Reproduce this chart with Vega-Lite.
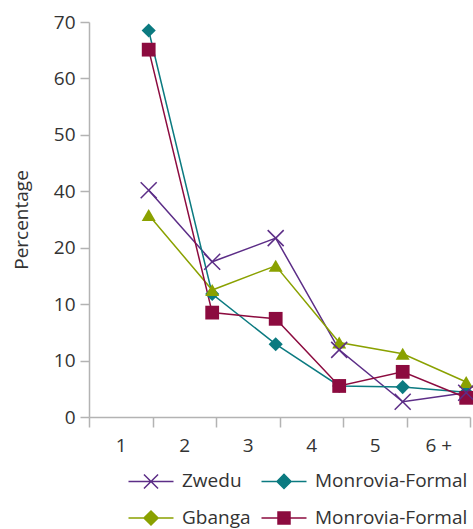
{
  "$schema": "https://vega.github.io/schema/vega-lite/v6.json",
  "autosize": "none",
  "width": 381,
  "height": 395,
  "padding": {"left": 89, "top": 22, "right": 3, "bottom": 112},
  "config": {
    "font": "Open Sans",
    "view": {"stroke": null},
    "axis": {"grid": false, "domainColor": "#b3b3b3", "tickColor": "#b3b3b3", "labelColor": "#333333", "labelFontSize": 19, "titleColor": "#333333", "domainWidth": 1.5, "tickWidth": 1.5}
  },
  "data": {"values": [
    {"series": "Zwedu", "size": "1", "value": 40.2},
    {"series": "Zwedu", "size": "2", "value": 27.5},
    {"series": "Zwedu", "size": "3", "value": 31.7},
    {"series": "Zwedu", "size": "4", "value": 11.9},
    {"series": "Zwedu", "size": "5", "value": 2.7},
    {"series": "Zwedu", "size": "6 +", "value": 4.3},
    {"series": "Monrovia-Formal A", "size": "1", "value": 68.5},
    {"series": "Monrovia-Formal A", "size": "2", "value": 21.8},
    {"series": "Monrovia-Formal A", "size": "3", "value": 12.9},
    {"series": "Monrovia-Formal A", "size": "4", "value": 5.5},
    {"series": "Monrovia-Formal A", "size": "5", "value": 5.3},
    {"series": "Monrovia-Formal A", "size": "6 +", "value": 4.4},
    {"series": "Gbanga", "size": "1", "value": 35.8},
    {"series": "Gbanga", "size": "2", "value": 22.5},
    {"series": "Gbanga", "size": "3", "value": 26.8},
    {"series": "Gbanga", "size": "4", "value": 13.2},
    {"series": "Gbanga", "size": "5", "value": 11.2},
    {"series": "Gbanga", "size": "6 +", "value": 6.2},
    {"series": "Monrovia-Formal B", "size": "1", "value": 65.1},
    {"series": "Monrovia-Formal B", "size": "2", "value": 18.5},
    {"series": "Monrovia-Formal B", "size": "3", "value": 17.4},
    {"series": "Monrovia-Formal B", "size": "4", "value": 5.5},
    {"series": "Monrovia-Formal B", "size": "5", "value": 8.0},
    {"series": "Monrovia-Formal B", "size": "6 +", "value": 3.4}
  ]},
  "encoding": {
    "x": {
      "field": "size", "type": "ordinal",
      "sort": ["1", "2", "3", "4", "5", "6 +"],
      "scale": {"type": "band", "paddingInner": 0, "paddingOuter": 0},
      "bandPosition": 0.94,
      "axis": {"title": null, "labelAngle": 0, "tickBand": "extent", "tickSize": 10, "labelPadding": 9}
    },
    "y": {
      "field": "value", "type": "quantitative",
      "scale": {"domain": [0, 70], "nice": false},
      "axis": {
        "title": "Percentage", "titleFontSize": 19, "titleFontWeight": "normal", "titlePadding": 22,
        "values": [0, 10, 20, 30, 40, 50, 60, 70],
        "labelExpr": "datum.value == 30 ? '20' : datum.value == 20 ? '10' : datum.label",
        "tickSize": 9, "labelPadding": 5
      }
    },
    "color": {
      "field": "series", "type": "nominal",
      "scale": {
        "domain": ["Zwedu", "Monrovia-Formal A", "Gbanga", "Monrovia-Formal B"],
        "range": ["#5c2d87", "#0b7a80", "#8aa100", "#8c0b3f"]
      },
      "legend": null
    }
  },
  "layer": [
    {
      "mark": {"type": "line", "strokeWidth": 1.5},
      "encoding": {
        "color": {
          "field": "series", "type": "nominal",
          "scale": {
            "domain": ["Zwedu", "Monrovia-Formal A", "Gbanga", "Monrovia-Formal B"],
            "range": ["#5c2d87", "#0b7a80", "#8aa100", "#8c0b3f"]
          },
          "legend": {
            "title": null, "orient": "none", "direction": "horizontal", "legendX": 46, "legendY": 443, "columns": 2,
            "symbolSize": 900, "symbolStrokeWidth": 1.5,
            "labelFontSize": 19, "labelColor": "#333333",
            "rowPadding": 10, "columnPadding": 7, "labelOffset": 15,
            "labelExpr": "datum.label == 'Zwedu' || datum.label == 'Gbanga' ? datum.label : 'Monrovia-Formal'",
            "encode": {
              "symbols": {
                "update": {
                  "shape": {"signal": "datum.value == 'Zwedu' ? 'M-1.5,0L1.5,0M-0.47,-0.47L0.47,0.47M-0.47,0.47L0.47,-0.47' : datum.value == 'Monrovia-Formal B' ? 'M-1.5,0L1.5,0M-0.4,-0.4L0.4,-0.4L0.4,0.4L-0.4,0.4Z' : 'M-1.5,0L1.5,0M-0.47,0L0,-0.47L0.47,0L0,0.47Z'"},
                  "fill": {"signal": "datum.value == 'Zwedu' ? 'transparent' : scale('color', datum.value)"},
                  "stroke": {"signal": "scale('color', datum.value)"},
                  "strokeWidth": {"value": 1.5},
                  "opacity": {"value": 1}
                }
              }
            }
          }
        }
      }
    },
    {
      "transform": [{"filter": "datum.series != 'Zwedu'"}],
      "mark": {"type": "point", "filled": true, "opacity": 1},
      "encoding": {
        "shape": {
          "field": "series", "type": "nominal",
          "scale": {"domain": ["Monrovia-Formal A", "Gbanga", "Monrovia-Formal B"], "range": ["diamond", "triangle-up", "square"]},
          "legend": null
        },
        "size": {
          "field": "series", "type": "nominal",
          "scale": {"domain": ["Monrovia-Formal A", "Gbanga", "Monrovia-Formal B"], "range": [200, 190, 160]},
          "legend": null
        }
      }
    },
    {
      "transform": [{"filter": "datum.series == 'Zwedu'"}],
      "mark": {"type": "point", "filled": false, "opacity": 1, "strokeWidth": 1.5, "size": 256, "shape": "M-1,-1L1,1M-1,1L1,-1"}
    }
  ]
}
